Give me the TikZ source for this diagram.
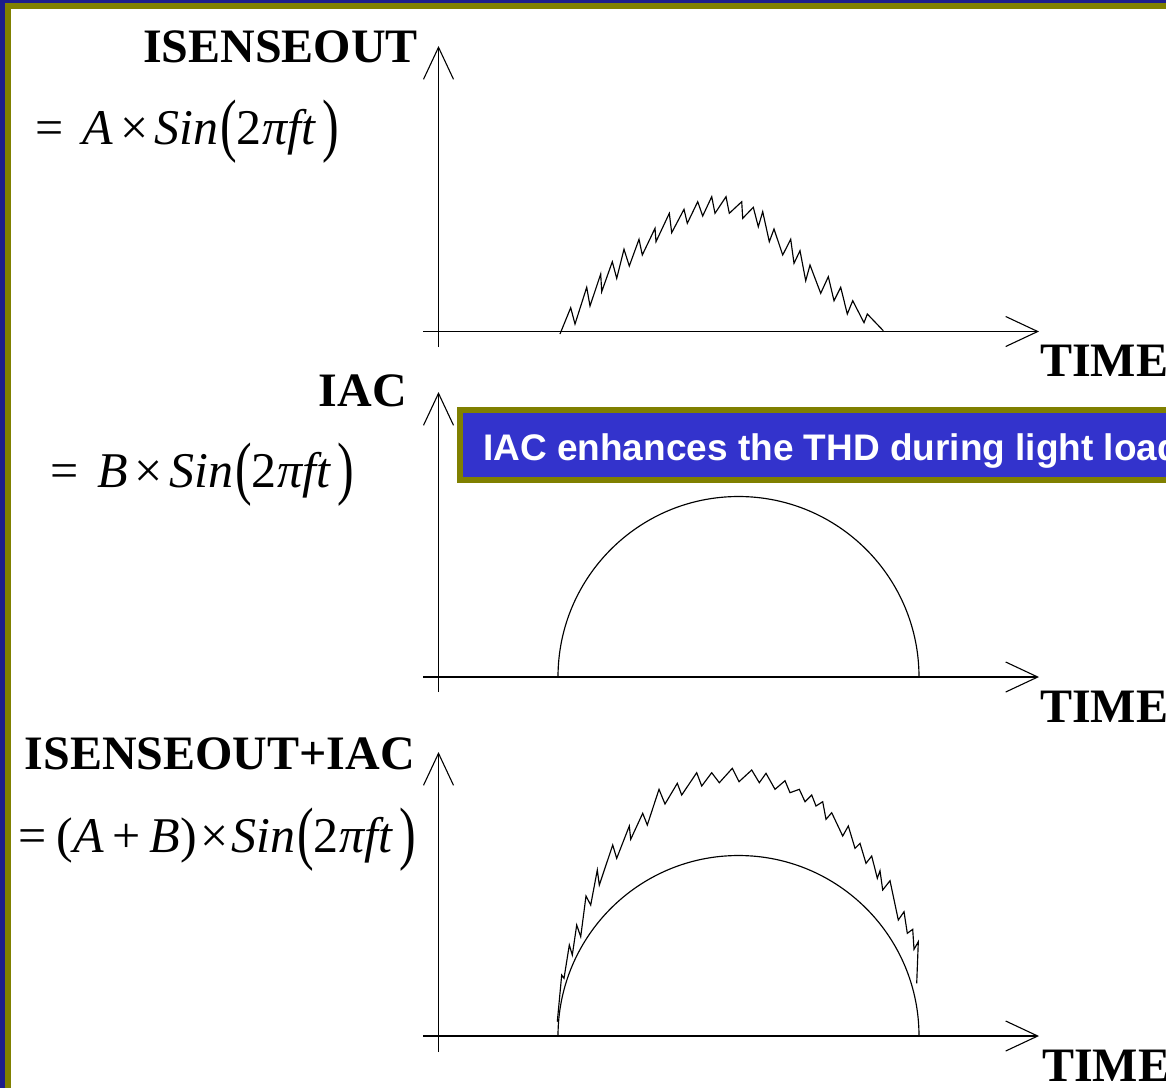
\documentclass[tikz,border=0pt]{standalone}
\usepackage{fontspec}
\usepackage{graphicx}
\setmainfont{Liberation Serif}
\newfontfamily\boxfont{Liberation Sans}
\usetikzlibrary{arrows.meta}
\definecolor{frameblue}{RGB}{28,28,140}
\definecolor{frameolive}{RGB}{128,128,0}
\definecolor{boxblue}{RGB}{51,51,204}
\newcommand{\bigpar}[1]{\raisebox{-0.09em}{\scalebox{1}[1.4]{#1}}}
\newcommand{\sinpart}{\textit{Sin}\hspace{0.04em}\bigpar{(}2\hspace{0.02em}\textit{πft}\hspace{0.12em}\bigpar{)}}
\begin{document}
\begin{tikzpicture}[x=1pt,y=-1pt,
  axis/.style={line width=1.1pt,-{Straight Barb[length=32pt,width=30pt,line width=1.1pt]}},
  wave/.style={line width=1.15pt,line join=miter},
  lbl/.style={font=\fontsize{48}{56}\selectfont\bfseries,inner sep=0pt},
  eqn/.style={font=\fontsize{50}{60}\selectfont,inner sep=0pt,anchor=base west},
  timelbl/.style={lbl,anchor=base west},
  ylbl/.style={lbl,anchor=base east},
  note/.style={draw=frameolive,line width=6pt,fill=boxblue}]
\useasboundingbox (0,0) rectangle (1166,1088);
\begin{scope}
\clip (0,0) rectangle (1166,1088);
% frame
\fill[frameblue] (0,0) rectangle (1166,3);
\fill[frameblue] (0,0) rectangle (5,1088);
\fill[frameolive] (5,3) rectangle (1166,9);
\fill[frameolive] (5,3) rectangle (11,1088);

% ---------- panel 1 ----------
\coordinate (y1b) at (438.5,347);
\coordinate (y1t) at (438.5,46);
\coordinate (x1l) at (423,331.5);
\coordinate (x1r) at (1039,331.5);
\draw[axis] (y1b) -- (y1t);
\draw[axis] (x1l) -- (x1r);
\node[ylbl] (l1) at (418,62) {ISENSEOUT};
\node[eqn] (e1) at (35,144) {=\hspace{0.38em}\textit{A}\hspace{0.14em}×\hspace{0.12em}\sinpart};
\node[timelbl] (t1) at (1040,376) {TIME};
\draw[wave] plot coordinates {
(560.0,334.0) (570.7,307.7) (575.0,324.0) (586.7,287.3) (590.0,306.0)
(600.7,274.0) (601.7,291.7) (612.3,261.7) (616.7,278.3) (624.0,249.3)
(629.3,266.0) (639.0,239.3) (642.3,255.0) (655.0,228.3) (656.0,241.7)
(669.3,213.3) (671.7,232.7) (684.0,209.3) (687.3,223.3) (697.7,201.7)
(702.7,216.0) (711.7,196.7) (715.0,213.3) (726.0,196.7) (729.3,213.3)
(741.7,201.7) (742.7,218.3) (753.3,207.3) (758.3,226.7) (762.7,211.7)
(769.3,241.7) (774.0,229.0) (782.7,255.0) (790.7,239.3) (794.0,263.3)
(800.0,250.7) (805.7,280.7) (810.0,265.0) (820.7,293.3) (828.3,276.7)
(834.0,300.7) (840.7,287.3) (847.3,314.0) (852.7,300.7) (864.0,322.7)
(867.3,314.0) (883.3,330.7)};

% ---------- panel 2 ----------
\coordinate (y2b) at (438.5,692);
\coordinate (y2t) at (438.5,392);
\coordinate (x2l) at (423,677);
\coordinate (x2r) at (1039,677);
\draw[axis] (y2b) -- (y2t);
\draw[axis] (x2l) -- (x2r);
\node[ylbl] (l2) at (407,406) {IAC};
\node[eqn] (e2) at (50,487) {=\hspace{0.38em}\textit{B}\hspace{0.14em}×\hspace{0.12em}\sinpart};
\node[timelbl] (t2) at (1040,722) {TIME};
\draw[wave] (558,677) arc[start angle=180,end angle=0,radius=180.5pt];
\draw[note] (460,410) rectangle (1200,480);
\node[anchor=base west,inner sep=0pt,text=white,font=\boxfont\bfseries\fontsize{37}{44}\selectfont] (msg) at (483,460) {IAC enhances the THD during light load};

% ---------- panel 3 ----------
\coordinate (y3b) at (438.5,1052);
\coordinate (y3t) at (438.5,752);
\coordinate (x3l) at (423,1036);
\coordinate (x3r) at (1039,1036);
\draw[axis] (y3b) -- (y3t);
\draw[axis] (x3l) -- (x3r);
\node[ylbl] (l3) at (415,769) {ISENSEOUT+IAC};
\node[eqn] (e3) at (18,852) {=\hspace{0.2em}(\textit{A}\hspace{0.18em}+\hspace{0.18em}\textit{B})\hspace{0.06em}×\hspace{0.06em}\sinpart};
\node[timelbl] (t3) at (1042,1081) {TIME};
\draw[wave] (558,1036) arc[start angle=180,end angle=0,radius=180.5pt];
\draw[wave] plot coordinates {
(557.3,1021.7) (561.7,975.0) (564.0,978.3) (569.3,945.0) (572.3,955.0)
(576.7,925.0) (580.7,936.7) (586.0,896.0) (590.7,905.0) (597.3,870.0)
(599.3,885.0) (612.7,845.0) (616.7,858.3) (629.3,826.0) (630.7,839.3)
(642.7,813.3) (647.3,825.0) (659.0,789.3) (665.0,804.0) (677.3,783.3)
(681.7,795.0) (696.7,772.7) (701.7,786.0) (711.7,772.7) (719.3,782.7)
(732.3,768.3) (739.0,781.7) (751.7,770.0) (759.3,782.7) (766.0,773.3)
(775.0,789.3) (785.0,780.7) (790.0,792.7) (799.3,789.3) (805.0,801.7)
(811.7,795.0) (816.0,806.0) (822.7,801.7) (826.0,819.3) (831.7,812.7)
(842.7,836.0) (848.3,826.0) (855.0,848.3) (860.0,843.3) (866.0,863.3)
(871.7,856.0) (877.3,878.3) (880.0,870.7) (882.7,890.0) (890.0,880.7)
(898.3,920.0) (904.0,911.7) (907.3,933.3) (912.7,929.3) (914.0,949.3)
(918.3,941.7) (916.7,983.3)};
\end{scope}
\end{tikzpicture}
\end{document}
